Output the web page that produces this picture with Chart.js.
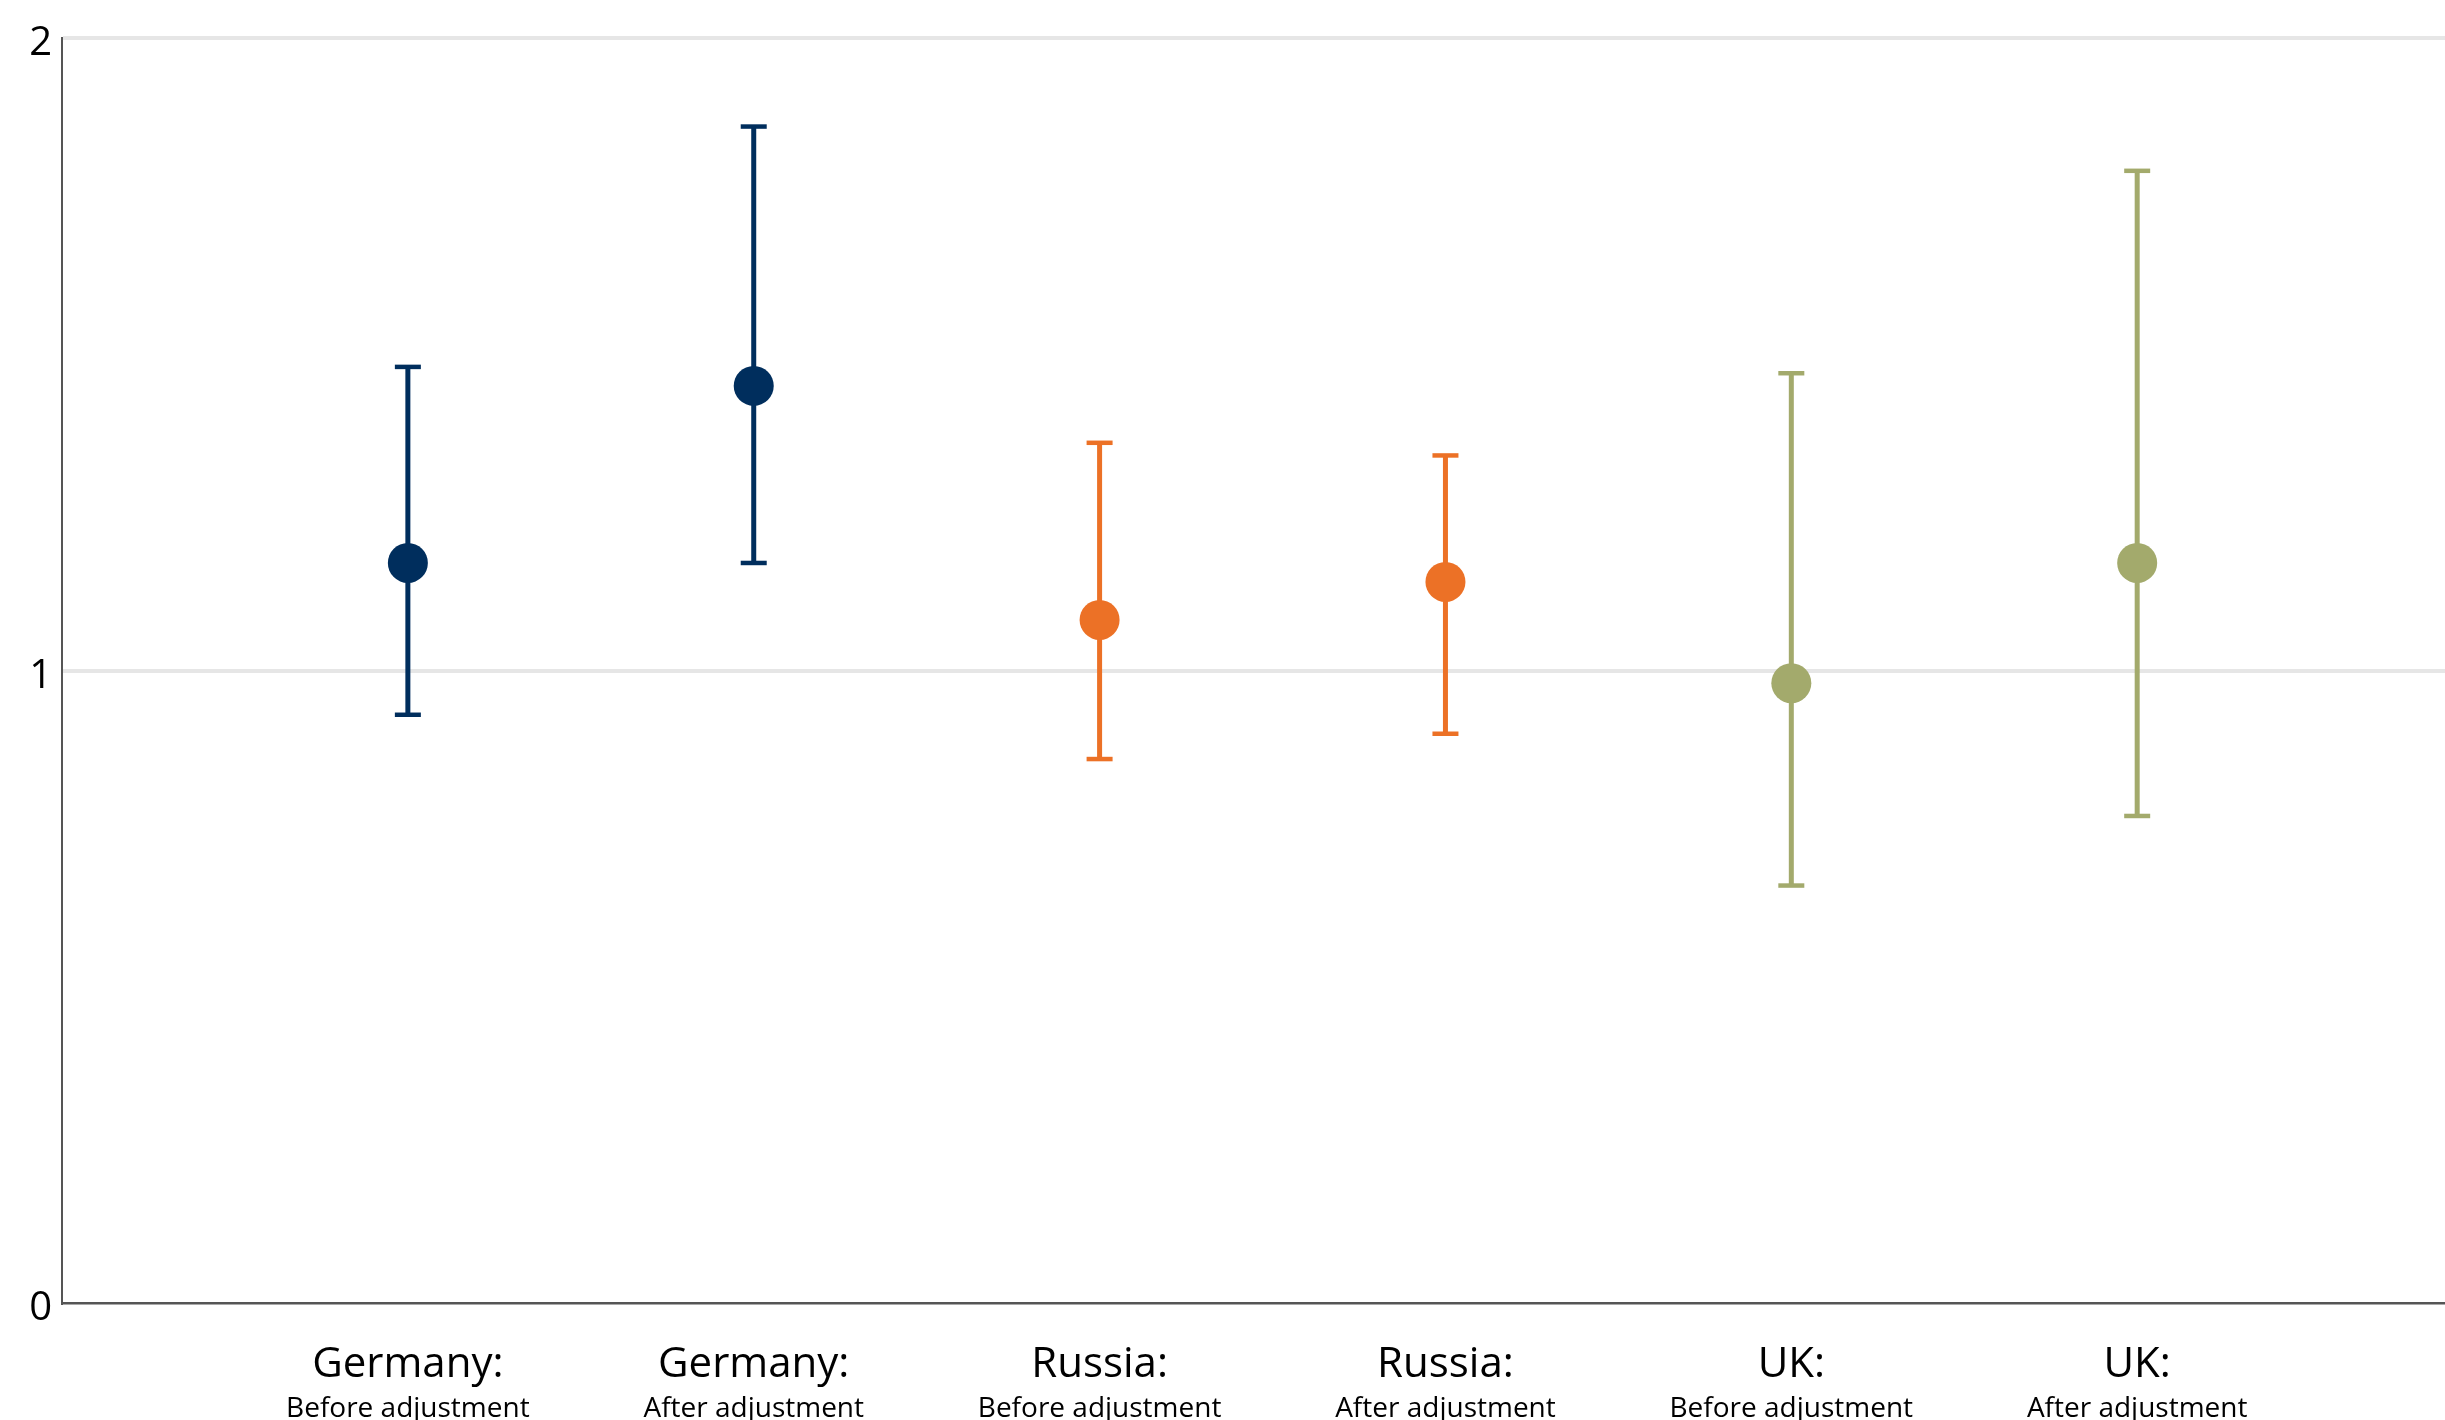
<!DOCTYPE html>
<html>
<head>
<meta charset="utf-8">
<script src="https://cdn.jsdelivr.net/npm/chart.js@4"></script>
<style>
  html, body { margin: 0; padding: 0; background: #ffffff; overflow: hidden; }
  #wrap { width: 2445px; height: 1426px; position: relative; }
</style>
</head>
<body>
<div id="wrap"><canvas id="c"></canvas></div>
<script>
const categories = ['Germany:', 'Germany:', 'Russia:', 'Russia:', 'UK:', 'UK:'];
const subLabels = ['Before adjustment', 'After adjustment', 'Before adjustment', 'After adjustment', 'Before adjustment', 'After adjustment'];
const estimates = [1.17, 1.45, 1.08, 1.14, 0.98, 1.17];
const lowerCI = [0.93, 1.17, 0.86, 0.90, 0.66, 0.77];
const upperCI = [1.48, 1.86, 1.36, 1.34, 1.47, 1.79];
const colors = ['#002e5d', '#002e5d', '#ec7126', '#ec7126', '#a3aa6c', '#a3aa6c'];
const yTicks = [0, 1, 2];

const FONT = "'Open Sans', 'Noto Sans', sans-serif";
const positions = categories.map((_, i) => i + 1);

const stemDatasets = positions.map((p, i) => ({
  type: 'line',
  data: [{ x: p, y: lowerCI[i] }, { x: p, y: upperCI[i] }],
  borderColor: colors[i],
  borderWidth: 5,
  pointRadius: 0,
  fill: false,
  order: 3
}));

const capData = [];
const capColors = [];
positions.forEach((p, i) => {
  capData.push({ x: p, y: lowerCI[i] }); capColors.push(colors[i]);
  capData.push({ x: p, y: upperCI[i] }); capColors.push(colors[i]);
});

const capDataset = {
  type: 'scatter',
  data: capData,
  pointStyle: 'line',
  pointRadius: 13,
  pointBorderWidth: 4.5,
  pointBorderColor: capColors,
  pointBackgroundColor: capColors,
  order: 2
};

const pointDataset = {
  type: 'scatter',
  data: positions.map((p, i) => ({ x: p, y: estimates[i] })),
  pointStyle: 'circle',
  pointRadius: 20,
  pointBorderWidth: 0,
  pointBackgroundColor: colors,
  pointBorderColor: colors,
  order: 1
};

const fixedXTicks = (scale) => { scale.ticks = positions.map(v => ({ value: v })); };

new Chart(document.getElementById('c'), {
  type: 'scatter',
  data: { datasets: [...stemDatasets, capDataset, pointDataset] },
  options: {
    responsive: true,
    maintainAspectRatio: false,
    animation: false,
    events: [],
    layout: { autoPadding: false, padding: { left: 0, right: 0, top: 38, bottom: 0 } },
    plugins: { legend: { display: false }, tooltip: { enabled: false } },
    scales: {
      x: {
        type: 'linear',
        position: 'bottom',
        min: 0,
        max: 6.89,
        afterBuildTicks: fixedXTicks,
        afterFit: (s) => { s.height = 85; s.paddingLeft = 0; s.paddingRight = 0; },
        grid: { display: false, drawTicks: false },
        border: { display: true, color: '#555555', width: 2.5 },
        ticks: {
          autoSkip: false,
          maxRotation: 0,
          padding: 37,
          color: '#000000',
          font: { family: FONT, size: 42 },
          callback: (v) => categories[v - 1] ?? ''
        }
      },
      x2: {
        type: 'linear',
        position: 'bottom',
        min: 0,
        max: 6.89,
        afterBuildTicks: fixedXTicks,
        afterFit: (s) => { s.height = 38; s.paddingLeft = 0; s.paddingRight = 0; },
        grid: { display: false, drawTicks: false },
        border: { display: false },
        ticks: {
          autoSkip: false,
          maxRotation: 0,
          padding: 4,
          color: '#000000',
          font: { family: FONT, size: 28 },
          callback: (v) => subLabels[v - 1] ?? ''
        }
      },
      y: {
        min: 0,
        max: 2,
        afterBuildTicks: (scale) => { scale.ticks = yTicks.map(v => ({ value: v })); },
        afterFit: (scale) => { scale.width = 62; },
        grid: {
          drawTicks: false,
          lineWidth: 4,
          color: (ctx) => (ctx.tick && ctx.tick.value === 0) ? 'rgba(0,0,0,0)' : '#e6e6e6'
        },
        border: { display: true, color: '#555555', width: 2 },
        ticks: {
          padding: 10,
          labelOffset: 6,
          color: '#000000',
          font: { family: FONT, size: 40 }
        }
      }
    }
  }
});
</script>
</body>
</html>
